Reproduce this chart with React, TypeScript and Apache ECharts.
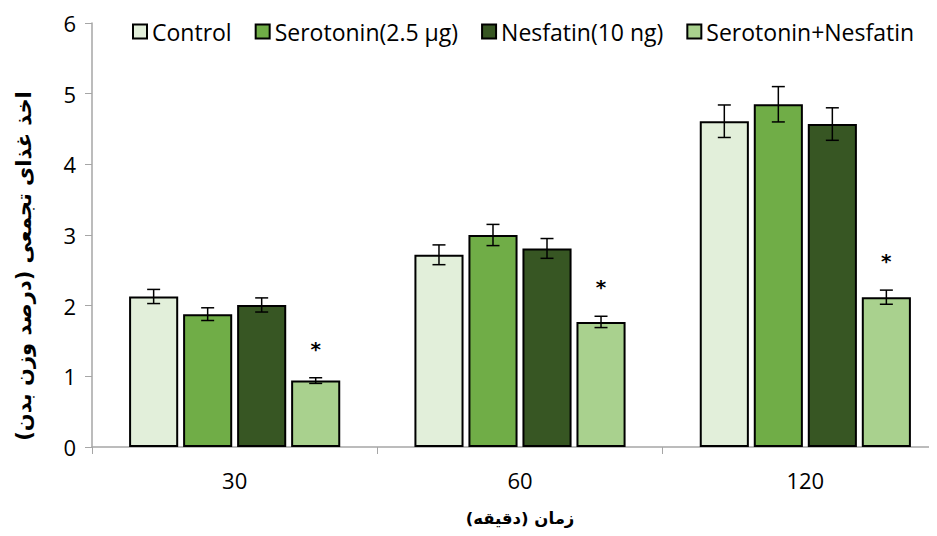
import React, { useEffect, useRef } from "react";
import * as echarts from "echarts";

const categories = ["30", "60", "120"];
const seriesNames = ["Control", "Serotonin(2.5 µg)", "Nesfatin(10 ng)", "Serotonin+Nesfatin"];
const controlValues = [2.13, 2.72, 4.61];
const controlErr = [0.1, 0.14, 0.23];
const serotoninValues = [1.88, 3.0, 4.85];
const serotoninErr = [0.09, 0.15, 0.25];
const nesfatinValues = [2.01, 2.81, 4.57];
const nesfatinErr = [0.1, 0.14, 0.23];
const comboValues = [0.94, 1.77, 2.12];
const comboErr = [0.04, 0.08, 0.1];
const comboMarks = ["*", "*", "*"];
const yTicks = [0, 1, 2, 3, 4, 5, 6];

const colors = ["#E2EFDA", "#70AD47", "#375623", "#A9D18E"];
const yTitle = "اخذ غذای تجمعی (درصد وزن بدن)";
const xTitle = "زمان (دقیقه)";

const BAR_CAT_GAP = 0.26;
const BAR_GAP = 0.1;
const FONT = "Open Sans";

export default function App() {
  const ref = useRef<HTMLDivElement>(null);
  useEffect(() => {
    if (!ref.current) return;
    const chart = echarts.init(ref.current, null, { renderer: "svg" });
    const values = [controlValues, serotoninValues, nesfatinValues, comboValues];
    const errs = [controlErr, serotoninErr, nesfatinErr, comboErr];
    const marks = [[], [], [], comboMarks];
    const n = values.length;

    const barSeries = values.map((vals, i) => ({
      name: seriesNames[i],
      type: "bar",
      data: vals,
      barCategoryGap: (BAR_CAT_GAP * 100) + "%",
      barGap: (BAR_GAP * 100) + "%",
      itemStyle: { color: colors[i], borderColor: "#000", borderWidth: 2 },
      z: 2,
    }));

    const errSeries = values.map((vals, i) => ({
      type: "custom",
      name: "err" + i,
      z: 5,
      clip: false,
      data: vals.map((v, j) => [j, v, errs[i][j]]),
      renderItem: (params: any, api: any) => {
        const cat = api.value(0);
        const v = api.value(1);
        const e = api.value(2);
        const mark = (marks[i] as string[])[params.dataIndex] || "";
        const band = api.size([1, 0])[0];
        const groupW = band * (1 - BAR_CAT_GAP);
        const bw = groupW / (n + (n - 1) * BAR_GAP);
        const center = api.coord([cat, v])[0];
        const x = center - groupW / 2 + i * bw * (1 + BAR_GAP) + bw / 2;
        const yHi = api.coord([cat, v + e])[1];
        const yLo = api.coord([cat, v - e])[1];
        const cap = 6.5;
        const style = { stroke: "#000", lineWidth: 1.5 };
        const children: any[] = [
          { type: "line", shape: { x1: x, y1: yHi, x2: x, y2: yLo }, style },
          { type: "line", shape: { x1: x - cap, y1: yHi, x2: x + cap, y2: yHi }, style },
          { type: "line", shape: { x1: x - cap, y1: yLo, x2: x + cap, y2: yLo }, style },
        ];
        if (mark) {
          children.push({
            type: "text",
            style: {
              text: mark,
              x: x,
              y: yHi - 29,
              align: "center",
              verticalAlign: "middle",
              fontSize: 20,
              fontWeight: "bold",
              fontFamily: "DejaVu Sans",
              fill: "#000",
            },
          });
        }
        return { type: "group", children };
      },
    }));

    chart.setOption({
      animation: false,
      grid: { left: 92, top: 23, width: 856, height: 424, containLabel: false, outerBoundsMode: "none" },
      legend: {
        data: seriesNames,
        top: 15,
        left: 127,
        itemWidth: 14,
        itemHeight: 14,
        itemGap: 23,
        textStyle: { fontSize: 23, fontFamily: FONT, color: "#000" },
        icon: "rect",
      },
      xAxis: {
        type: "category",
        data: categories,
        name: xTitle,
        nameLocation: "middle",
        nameGap: 63,
        nameTextStyle: { fontSize: 16.5, fontWeight: "bold", fontFamily: "DejaVu Sans", color: "#000" },
        axisLine: { lineStyle: { color: "#A6A6A6", width: 1.5 } },
        axisTick: { show: true, length: 7, lineStyle: { color: "#A6A6A6" } },
        axisLabel: { fontSize: 22, fontFamily: FONT, color: "#000", margin: 22 },
      },
      yAxis: {
        type: "value",
        min: yTicks[0],
        max: yTicks[yTicks.length - 1],
        interval: 1,
        axisLine: { show: true, lineStyle: { color: "#A6A6A6", width: 1.5 } },
        axisTick: { show: true, length: 7, lineStyle: { color: "#A6A6A6" } },
        splitLine: { show: false },
        axisLabel: { fontSize: 22, fontFamily: FONT, color: "#000", margin: 16 },
      },
      graphic: [
        {
          type: "text",
          x: 24,
          y: 266,
          rotation: Math.PI / 2,
          style: {
            text: yTitle,
            align: "center",
            verticalAlign: "middle",
            fontSize: 21,
            fontWeight: "bold",
            fontFamily: "DejaVu Sans",
            fill: "#000",
          },
        },
      ],
      series: [...barSeries, ...errSeries],
    });
    return () => chart.dispose();
  }, []);
  return <div ref={ref} style={{ width: 937, height: 536, margin: -8 }} />;
}
